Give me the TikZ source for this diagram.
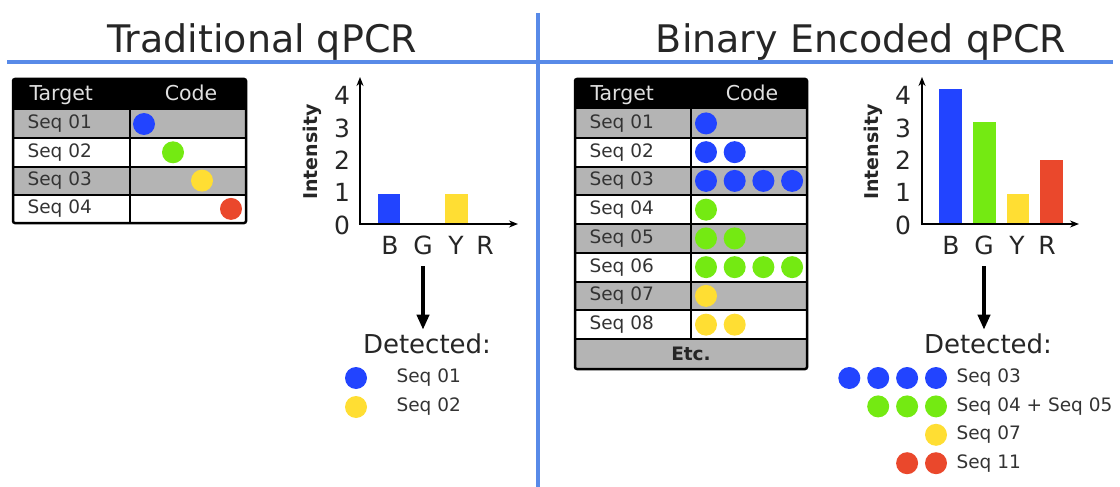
\documentclass[tikz,border=0pt]{standalone}
\usepackage{fontspec}
\setmainfont{DejaVu Sans}
\usetikzlibrary{arrows.meta}

\definecolor{dotblue}{RGB}{34,68,255}
\definecolor{dotgreen}{RGB}{116,234,18}
\definecolor{dotyellow}{RGB}{255,222,51}
\definecolor{dotred}{RGB}{234,72,44}
\definecolor{divline}{RGB}{88,138,232}
\definecolor{rowgray}{RGB}{180,180,180}

\tikzset{
  headline/.style={anchor=base, font=\fontsize{38}{40}\selectfont, text=black!85},
  seqtext/.style={anchor=west, font=\fontsize{18.5}{20}\selectfont, text=black!80},
  headtext/.style={anchor=base, font=\fontsize{20.5}{22}\selectfont, text=white!88!black},
  codedot/.style={circle, fill=#1, minimum size=22pt, inner sep=0pt},
  ticklabel/.style={font=\fontsize{25}{27}\selectfont, text=black!85},
  axislabel/.style={font=\bfseries\fontsize{19}{21}\selectfont, rotate=90, text=black!85},
  bluediv/.style={draw=divline, line width=4pt},
  axisline/.style={line width=2.5pt, -{Stealth[length=9pt,width=7pt]}},
  downarrow/.style={line width=4pt, -{Triangle[length=15pt,width=12pt]}},
  tableframe/.style={line width=2.5pt, rounded corners=2pt},
  rowline/.style={line width=2pt},
}

\begin{document}
\begin{tikzpicture}[x=1pt, y=-1pt]
  \useasboundingbox (0,0) rectangle (1120,487);

  % dividers
  \coordinate (hl) at (7,62);
  \coordinate (hr) at (1113,62);
  \coordinate (vt) at (538,13);
  \coordinate (vb) at (538,487);
  \draw[bluediv] (hl) -- (hr);
  \draw[bluediv] (vt) -- (vb);

  \node[headline] (tradtitle) at (262,53) {Traditional qPCR};
  \node[headline] (bintitle) at (861,53) {Binary Encoded qPCR};

  % traditional table
  \fill[black] (13,79) rectangle (246,110);
  \foreach \i in {0,2}
    \fill[rowgray] (13,{110+28.3*\i}) rectangle (246,{110+28.3*(\i+1)});
  \foreach \i in {1,2,3}
    \draw[rowline] (13,{110+28.3*\i}) -- (246,{110+28.3*\i});
  \draw[rowline] (130,110) -- (130,223);
  \draw[tableframe] (13,79) rectangle (246,223);
  \node[headtext, anchor=base west] (ltarget) at (26,101) {Target};
  \node[headtext] (lcode) at (191,101) {Code};
  \foreach \n/\c/\xx [count=\i from 0] in {01/dotblue/144, 02/dotgreen/173, 03/dotyellow/202, 04/dotred/231} {
    \node[seqtext] (lseq\n) at (24,{124+28.3*\i}) {Seq \n};
    \node[codedot=\c] (ldot\n) at (\xx,{124+28.3*\i}) {};
  }

  % traditional chart
  \coordinate (lorig) at (360,224);
  \coordinate (ltop) at (360,77);
  \coordinate (lright) at (518,224);
  \fill[dotblue] (378,224) rectangle (400,194);
  \fill[dotyellow] (445,224) rectangle (468,194);
  \draw[axisline] (lorig) -- (ltop);
  \draw[axisline] (358.75,224) -- (lright);
  \foreach \v in {0,...,4}
    \node[ticklabel] (ltick\v) at (342,{225-32.3*\v}) {\v};
  \foreach \l/\xx in {B/390, G/423, Y/456, R/485}
    \node[ticklabel] (lx\l) at (\xx,245) {\l};
  \node[axislabel] (lint) at (312,152) {Intensity};

  \coordinate (larr) at (423,266);
  \node[font=\fontsize{26}{28}\selectfont, anchor=base, text=black!85] (ldet) at (427,353) {Detected:};
  \draw[downarrow] (larr) -- (larr |- ldet.north);
  \node[codedot=dotblue] (lres1) at (356,378) {};
  \node[codedot=dotyellow] (lres2) at (356,407) {};
  \node[seqtext] (lrest1) at (393,378) {Seq 01};
  \node[seqtext] (lrest2) at (393,407) {Seq 02};

  % binary encoded table
  \fill[black] (575,79) rectangle (807,109);
  \foreach \i in {0,2,4,6}
    \fill[rowgray] (575,{109+28.75*\i}) rectangle (807,{109+28.75*(\i+1)});
  \fill[rowgray] (575,339) rectangle (807,369);
  \foreach \i in {1,...,8}
    \draw[rowline] (575,{109+28.75*\i}) -- (807,{109+28.75*\i});
  \draw[rowline] (691,109) -- (691,339);
  \draw[tableframe] (575,79) rectangle (807,369);
  \node[headtext, anchor=base west] (rtarget) at (587,101) {Target};
  \node[headtext] (rcode) at (752,101) {Code};
  \foreach \n/\c/\k [count=\i from 0] in {01/dotblue/1, 02/dotblue/2, 03/dotblue/4, 04/dotgreen/1,
      05/dotgreen/2, 06/dotgreen/4, 07/dotyellow/1, 08/dotyellow/2} {
    \node[seqtext] (rseq\n) at (586,{123.4+28.75*\i}) {Seq \n};
    \foreach \j in {1,...,\k}
      \node[codedot=\c] (rdot\n\j) at ({706+28.7*(\j-1)},{123.4+28.75*\i}) {};
  }
  \node[font=\bfseries\fontsize{18.5}{20}\selectfont, text=black!85] (etc) at (691,354) {Etc.};

  % binary encoded chart
  \coordinate (rorig) at (922,224);
  \coordinate (rtop) at (922,77);
  \coordinate (rright) at (1079,224);
  \fill[dotblue] (939,224) rectangle (962,89);
  \fill[dotgreen] (973,224) rectangle (996,122);
  \fill[dotyellow] (1007,224) rectangle (1029,194);
  \fill[dotred] (1040,224) rectangle (1063,160);
  \draw[axisline] (rorig) -- (rtop);
  \draw[axisline] (920.75,224) -- (rright);
  \foreach \v in {0,...,4}
    \node[ticklabel] (rtick\v) at (903,{225-32.3*\v}) {\v};
  \foreach \l/\xx in {B/951, G/984, Y/1017, R/1047}
    \node[ticklabel] (rx\l) at (\xx,245) {\l};
  \node[axislabel] (rint) at (873,152) {Intensity};

  \coordinate (rarr) at (984,266);
  \node[font=\fontsize{26}{28}\selectfont, anchor=base, text=black!85] (rdet) at (988,353) {Detected:};
  \draw[downarrow] (rarr) -- (rarr |- rdet.north);
  \foreach \c/\k/\t [count=\i from 0] in {dotblue/4/Seq 03, dotgreen/3/Seq 04 + Seq 05,
      dotyellow/1/Seq 07, dotred/2/Seq 11} {
    \foreach \j in {1,...,\k}
      \node[codedot=\c] (rres\i\j) at ({936-28.9*(\j-1)},{378+28.4*\i}) {};
    \node[seqtext] (rrest\i) at (953,{378+28.4*\i}) {\t};
  }
\end{tikzpicture}
\end{document}
